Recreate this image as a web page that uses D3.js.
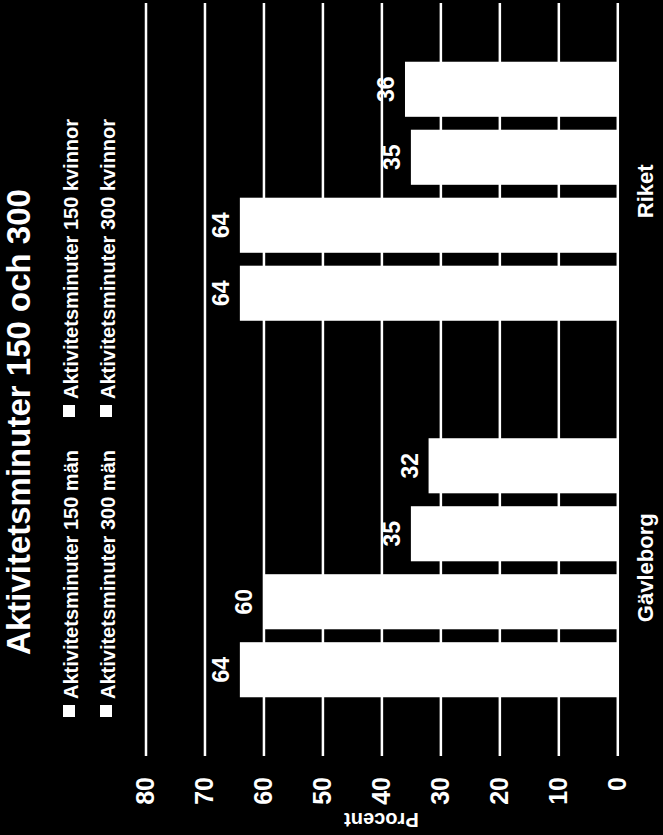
<!DOCTYPE html>
<html>
<head>
<meta charset="utf-8">
<script src="https://cdn.jsdelivr.net/npm/d3@7"></script>
<style>
	body { margin: 0; background: #000; }
	svg { display: block; }
</style>
</head>
<body>
<svg width="663" height="835"></svg>
<script>
// Data
var categories = ["Gävleborg", "Riket"];
var series = [
	"Aktivitetsminuter 150 män",
	"Aktivitetsminuter 300 män",
	"Aktivitetsminuter 150 kvinnor",
	"Aktivitetsminuter 300 kvinnor"
];
var gavleborgValues = [64, 60, 35, 32];
var riketValues = [64, 64, 35, 36];
var yTicks = [0, 10, 20, 30, 40, 50, 60, 70, 80];
var title = "Aktivitetsminuter 150 och 300";
var yTitle = "Procent";

var values = { "Gävleborg": gavleborgValues, "Riket": riketValues };

// The svg
var svg = d3.select("svg"),
	width = +svg.attr("width"),
	height = +svg.attr("height");

svg.append("rect")
	.attr("width", width)
	.attr("height", height)
	.attr("fill", "#000");

var font = "'Liberation Sans', Arial, sans-serif";

// chart is laid out upright in an 835 x 663 frame, then turned a quarter left
var g = svg.append("g")
	.attr("transform", "translate(0," + height + ") rotate(-90)");

// scales
var x0 = d3.scaleBand()
	.domain(categories)
	.range([79, 832]);

var x1 = d3.scaleBand()
	.domain(series)
	.range([0, x0.bandwidth()])
	.paddingInner(0.19)
	.paddingOuter(0.864);

var y = d3.scaleLinear()
	.domain([0, 80])
	.range([617.3, 145.5]);

// gridlines + tick labels
var axis = g.append("g")
	.attr("transform", "translate(79,0)")
	.call(d3.axisLeft(y)
		.tickValues(yTicks)
		.tickSize(-(832 - 79))
		.tickPadding(21))
	.attr("color", "#fff")
	.attr("font-family", font)
	.attr("font-size", 25)
	.attr("font-weight", "bold");
axis.select(".domain").remove();
axis.selectAll(".tick line").attr("stroke-width", 2.5);

// bars
var groups = g.append("g")
	.selectAll("g")
	.data(categories)
	.enter()
	.append("g")
	.attr("transform", function (c) { return "translate(" + x0(c) + ",0)"; });

groups.selectAll("rect")
	.data(function (c) { return series.map(function (s, i) { return { s: s, v: values[c][i] }; }); })
	.enter()
	.append("rect")
	.attr("x", function (d) { return x1(d.s); })
	.attr("y", function (d) { return y(d.v); })
	.attr("width", x1.bandwidth())
	.attr("height", function (d) { return y(0) - y(d.v); })
	.attr("fill", "#fff");

// value labels
groups.selectAll("text")
	.data(function (c) { return series.map(function (s, i) { return { s: s, v: values[c][i] }; }); })
	.enter()
	.append("text")
	.attr("x", function (d) { return x1(d.s) + x1.bandwidth() / 2; })
	.attr("y", function (d) { return y(d.v) - 11; })
	.attr("text-anchor", "middle")
	.attr("fill", "#fff")
	.attr("font-family", font)
	.attr("font-size", 23)
	.attr("font-weight", "bold")
	.text(function (d) { return d.v; });

// category labels
g.append("g")
	.selectAll("text")
	.data(categories)
	.enter()
	.append("text")
	.attr("x", function (c) { return x0(c) + x0.bandwidth() / 2; })
	.attr("y", 653)
	.attr("text-anchor", "middle")
	.attr("fill", "#fff")
	.attr("font-family", font)
	.attr("font-size", 22)
	.attr("font-weight", "bold")
	.text(function (c) { return c; });

// title
g.append("text")
	.attr("x", 413)
	.attr("y", 30)
	.attr("text-anchor", "middle")
	.attr("fill", "#fff")
	.attr("font-family", font)
	.attr("font-size", 33)
	.attr("font-weight", "bold")
	.text(title);

// y axis title
g.append("text")
	.attr("transform", "translate(22," + ((y(0) + y(80)) / 2) + ") rotate(-90)")
	.attr("text-anchor", "middle")
	.attr("fill", "#fff")
	.attr("font-family", font)
	.attr("font-size", 20)
	.attr("font-weight", "bold")
	.text(yTitle);

// legend, two rows of two
var legend = g.append("g")
	.selectAll("g")
	.data(series)
	.enter()
	.append("g")
	.attr("transform", function (s, i) {
		return "translate(" + (118 + Math.floor(i / 2) * 300) + "," + (63 + (i % 2) * 37) + ")";
	});

legend.append("rect")
	.attr("width", 12)
	.attr("height", 12)
	.attr("fill", "#fff");

legend.append("text")
	.attr("x", 18)
	.attr("y", 14.5)
	.attr("fill", "#fff")
	.attr("font-family", font)
	.attr("font-size", 20)
	.attr("font-weight", "bold")
	.text(function (s) { return s; });
</script>
</body>
</html>
